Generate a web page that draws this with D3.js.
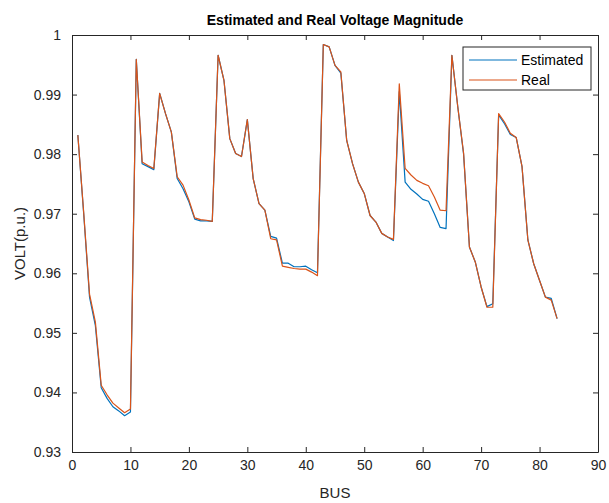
<!DOCTYPE html>
<html>
<head>
<meta charset="utf-8">
<script src="https://cdn.jsdelivr.net/npm/d3@7"></script>
<style>
  body { margin: 0; background: #fff; }
  svg { font-family: "Liberation Sans", Arial, sans-serif; }
</style>
</head>
<body>
<div id="wrap"></div>
<script>
//  Bus numbers 1..83 and the two voltage series
const buses = d3.range(1, 84);

const estimated = [
  0.9832, 0.9700, 0.9560, 0.9512, 0.9408, 0.9390, 0.9376, 0.9369, 0.9361, 0.9367,
  0.9959, 0.9784, 0.9779, 0.9774, 0.9902, 0.9868, 0.9837, 0.9759, 0.9742, 0.9720,
  0.9691, 0.9688, 0.9688, 0.9687, 0.9966, 0.9924, 0.9826, 0.9801, 0.9796, 0.9858,
  0.9759, 0.9717, 0.9706, 0.9662, 0.9659, 0.9617, 0.9617, 0.9611, 0.9611, 0.9612,
  0.9606, 0.9601, 0.9984, 0.9980, 0.9949, 0.9936, 0.9823, 0.9784, 0.9753, 0.9734,
  0.9697, 0.9686, 0.9667, 0.9661, 0.9655, 0.9905, 0.9753, 0.9741, 0.9733, 0.9724,
  0.9721, 0.9700, 0.9677, 0.9675, 0.9966, 0.9880, 0.9800, 0.9644, 0.9619, 0.9577,
  0.9544, 0.9549, 0.9866, 0.9851, 0.9833, 0.9828, 0.9779, 0.9656, 0.9616, 0.9588,
  0.9560, 0.9558, 0.9524
];

const real = [
  0.9832, 0.9702, 0.9565, 0.9518, 0.9412, 0.9396, 0.9382, 0.9374, 0.9366, 0.9372,
  0.9959, 0.9787, 0.9781, 0.9776, 0.9902, 0.9868, 0.9837, 0.9762, 0.9748, 0.9723,
  0.9693, 0.9690, 0.9689, 0.9687, 0.9966, 0.9924, 0.9826, 0.9801, 0.9796, 0.9858,
  0.9759, 0.9717, 0.9706, 0.9658, 0.9656, 0.9612, 0.9610, 0.9608, 0.9607, 0.9607,
  0.9602, 0.9596, 0.9984, 0.9980, 0.9949, 0.9938, 0.9823, 0.9784, 0.9753, 0.9734,
  0.9697, 0.9686, 0.9667, 0.9661, 0.9657, 0.9918, 0.9776, 0.9765, 0.9756, 0.9751,
  0.9747, 0.9728, 0.9706, 0.9705, 0.9966, 0.9880, 0.9802, 0.9644, 0.9619, 0.9577,
  0.9543, 0.9543, 0.9868, 0.9854, 0.9835, 0.9828, 0.9779, 0.9656, 0.9616, 0.9588,
  0.9560, 0.9555, 0.9524
];

const xTicks = d3.range(0, 91, 10);
const yTicks = [0.93, 0.94, 0.95, 0.96, 0.97, 0.98, 0.99, 1];
const seriesNames = ["Estimated", "Real"];
const seriesColors = ["#0072BD", "#D95319"];

//  Plot box placement, matched to the MATLAB figure
const margin = { top: 35, right: 11, bottom: 51, left: 72 },
  width = 609 - margin.left - margin.right,
  height = 503 - margin.top - margin.bottom;

const x = d3.scaleLinear().domain([0, 90]).range([0, width]);
const y = d3.scaleLinear().domain([0.93, 1]).range([height, 0]);

const svg = d3
  .select("#wrap")
  .append("svg")
  .attr("width", 609)
  .attr("height", 503);

const g = svg
  .append("g")
  .attr("transform", "translate(" + margin.left + "," + margin.top + ")");

const axisColor = "#262626";
const tickLen = 5;

//  Axes: MATLAB draws ticks inward on all four sides
const xAxis = g
  .append("g")
  .attr("transform", "translate(0," + height + ")")
  .call(d3.axisBottom(x).tickValues(xTicks).tickSizeInner(-tickLen).tickSizeOuter(0).tickPadding(8));
const xTop = g
  .append("g")
  .call(d3.axisTop(x).tickValues(xTicks).tickSizeInner(-tickLen).tickSizeOuter(0).tickFormat(""));
const yAxis = g
  .append("g")
  .call(d3.axisLeft(y).tickValues(yTicks).tickSizeInner(-tickLen).tickSizeOuter(0).tickPadding(11).tickFormat(d3.format("")));
const yRight = g
  .append("g")
  .attr("transform", "translate(" + width + ",0)")
  .call(d3.axisRight(y).tickValues(yTicks).tickSizeInner(-tickLen).tickSizeOuter(0).tickFormat(""));

[xAxis, xTop, yAxis, yRight].forEach((a) => {
  a.select(".domain").attr("stroke", axisColor).attr("stroke-width", 1);
  a.selectAll(".tick line").attr("stroke", axisColor);
  a.selectAll(".tick text")
    .attr("fill", axisColor)
    .style("font-size", "14px")
    .style("font-family", "'Liberation Sans', Arial, sans-serif");
});

//  Lines
const line = d3
  .line()
  .x((d, i) => x(buses[i]))
  .y((d) => y(d));

[estimated, real].forEach((series, i) => {
  g.append("path")
    .datum(series)
    .attr("fill", "none")
    .attr("stroke", seriesColors[i])
    .attr("stroke-width", 1.2)
    .attr("stroke-linejoin", "round")
    .attr("d", line);
});

//  Title and axis labels
svg
  .append("text")
  .attr("x", margin.left + width / 2)
  .attr("y", 25)
  .attr("text-anchor", "middle")
  .style("font-size", "14px")
  .style("font-weight", "bold")
  .attr("fill", "#000")
  .text("Estimated and Real Voltage Magnitude");

svg
  .append("text")
  .attr("x", margin.left + width / 2)
  .attr("y", 498)
  .attr("text-anchor", "middle")
  .style("font-size", "15px")
  .attr("fill", axisColor)
  .text("BUS");

svg
  .append("text")
  .attr("transform", "translate(25," + (margin.top + height / 2) + ") rotate(-90)")
  .attr("text-anchor", "middle")
  .style("font-size", "15px")
  .attr("fill", axisColor)
  .text("VOLT(p.u.)");

//  Legend box in the upper right
const legend = svg.append("g").attr("transform", "translate(463,47)");
legend
  .append("rect")
  .attr("width", 128)
  .attr("height", 43)
  .attr("fill", "#fff")
  .attr("stroke", axisColor)
  .attr("stroke-width", 1);

seriesNames.forEach((name, i) => {
  const yy = 13 + i * 20;
  legend
    .append("line")
    .attr("x1", 6)
    .attr("x2", 54)
    .attr("y1", yy)
    .attr("y2", yy)
    .attr("stroke", seriesColors[i])
    .attr("stroke-width", 1.2);
  legend
    .append("text")
    .attr("x", 58)
    .attr("y", yy + 5)
    .style("font-size", "14px")
    .attr("fill", "#000")
    .text(name);
});
</script>
</body>
</html>
